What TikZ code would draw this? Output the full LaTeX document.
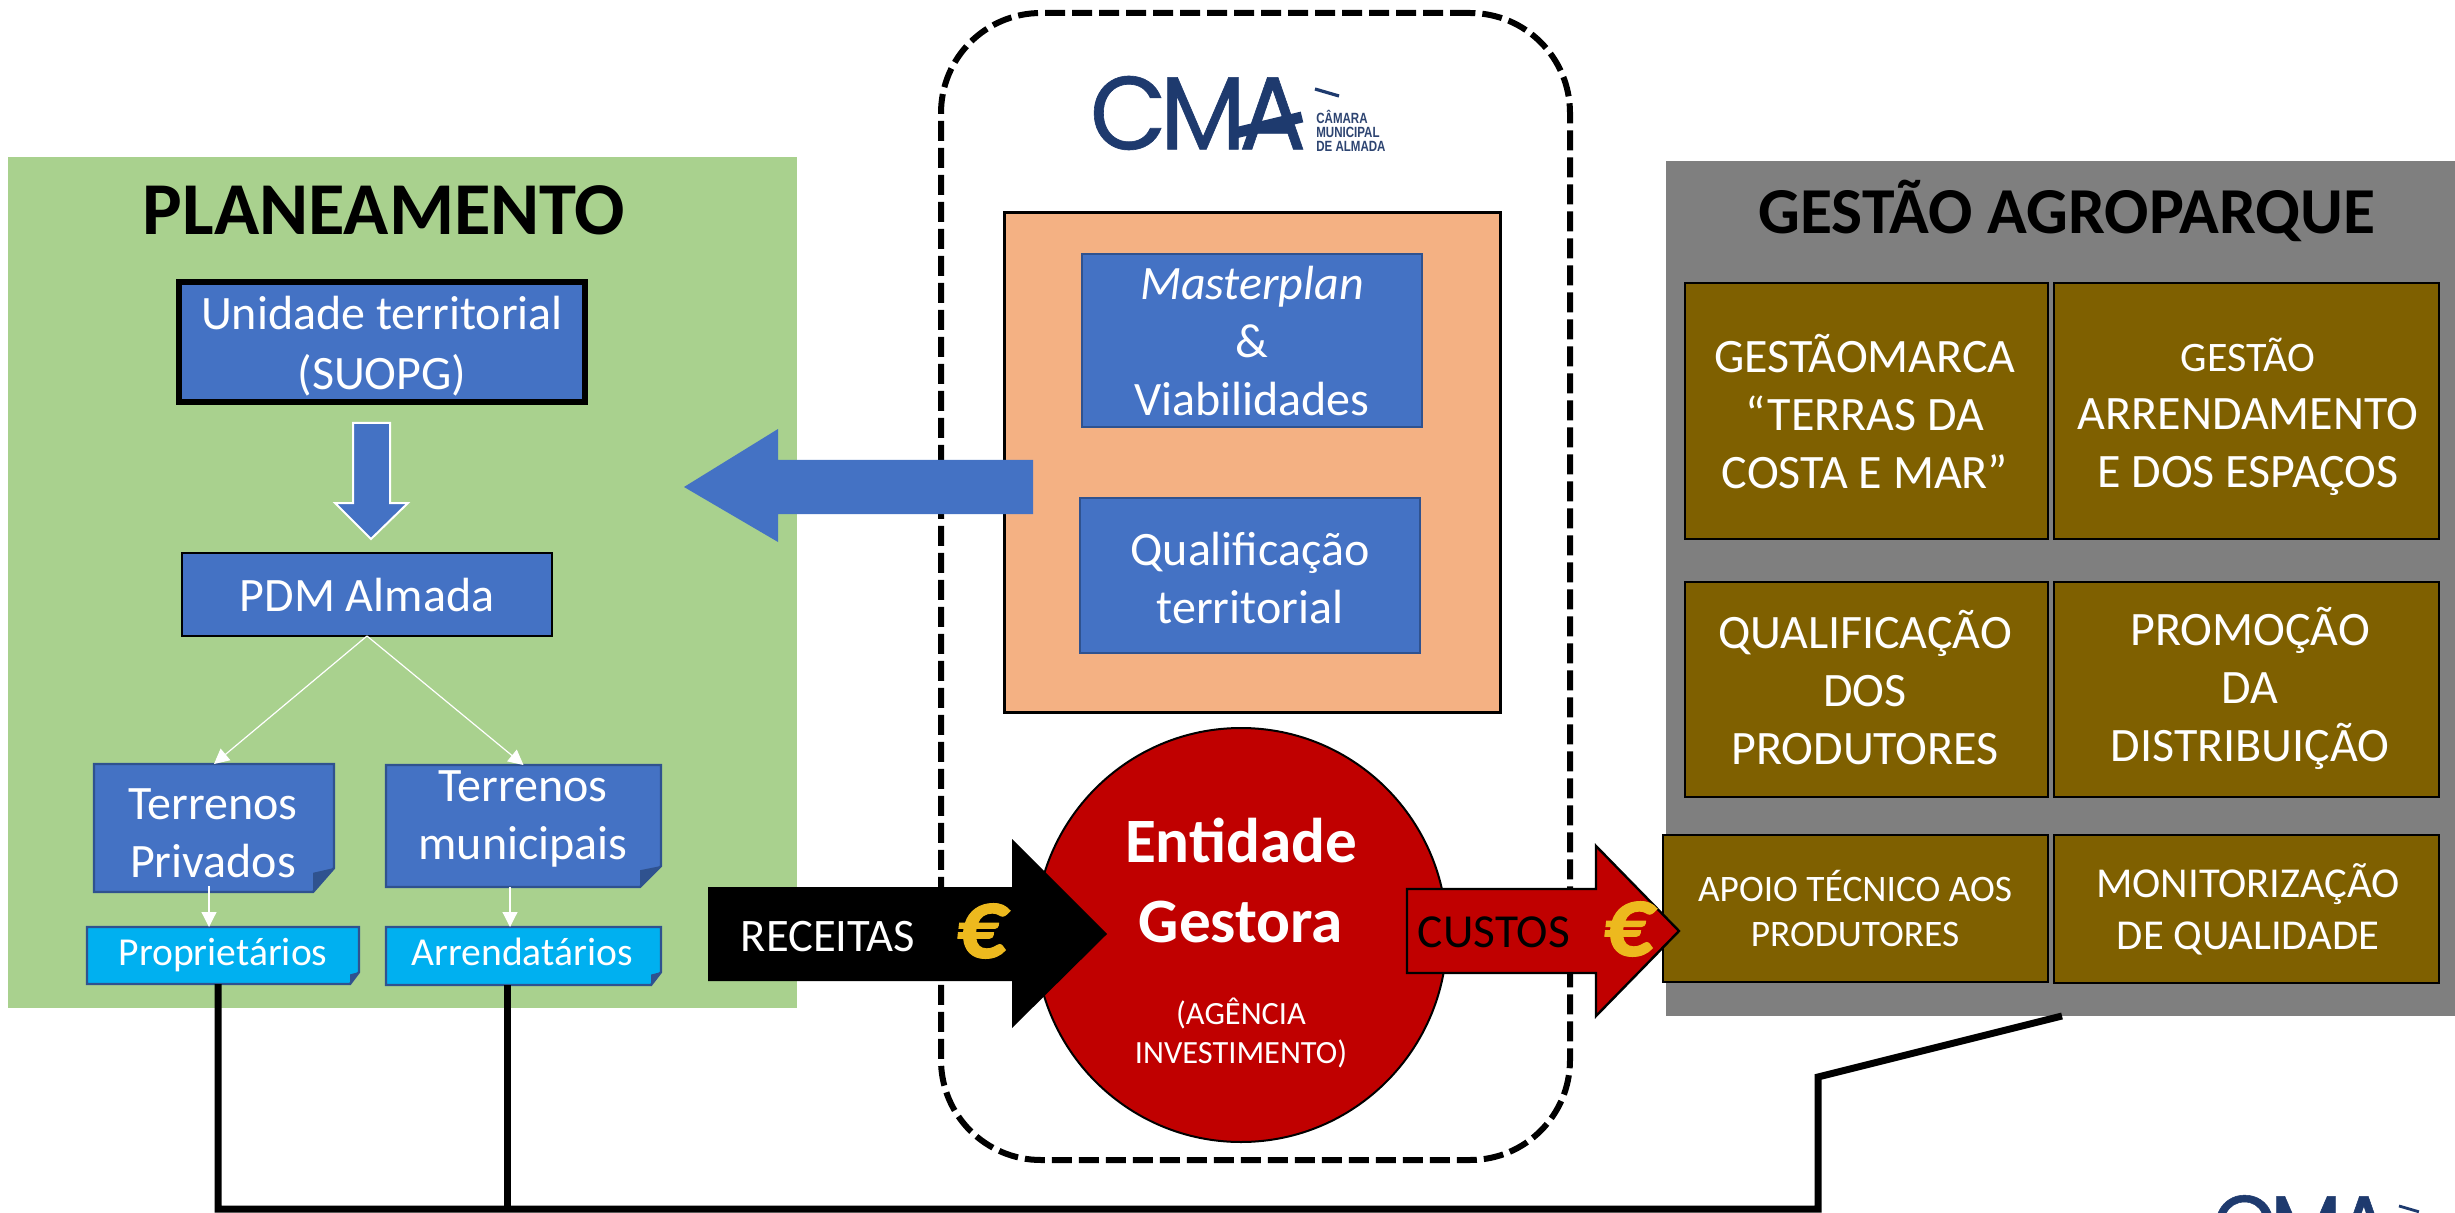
\documentclass[tikz,border=0pt]{standalone}
\usepackage{fontspec}
\setmainfont{Carlito}
\newfontfamily\logofont[LetterSpace=-7,FakeBold=0.6]{Poppins}
\newfontfamily\logosmall{Liberation Sans}
\newfontfamily\eurofont[FakeBold=1.2]{Carlito Bold Italic}
\usetikzlibrary{arrows.meta,calc}
\definecolor{gfill}{HTML}{A9D18E}
\definecolor{bluef}{HTML}{4472C4}
\definecolor{blued}{HTML}{2F528F}
\definecolor{cyanf}{HTML}{00B0F0}
\definecolor{orangef}{HTML}{F4B183}
\definecolor{redf}{HTML}{C00000}
\definecolor{brownf}{HTML}{7F6000}
\definecolor{grayf}{HTML}{7F7F7F}
\definecolor{logoblue}{HTML}{1E3A6E}
\definecolor{eurog}{HTML}{EDB91E}
\newcommand{\rectn}[6]{%
  \pgfmathsetmacro{\cxx}{(#3+#5)/2}\pgfmathsetmacro{\cyy}{(#4+#6)/2}%
  \pgfmathsetmacro{\ww}{(#5-#3)*0.5}\pgfmathsetmacro{\hh}{(#6-#4)*0.5}%
  \node[#1,minimum width=\ww pt,minimum height=\hh pt] (#2) at (\cxx,\cyy) {};}
\newcommand{\foldn}[4]{%
  \path[fill=#1,draw=blued,line width=1.2pt] (#2.north west) -- (#2.north east) -- ($(#2.south east)+(0,#3)$) -- ($(#2.south east)+(#4,0)$) -- (#2.south west) -- cycle;
  \path[fill=blued] ($(#2.south east)+(0,#3)$) -- ($(#2.south east)+(#4,0)$) -- ($(#2.south east)+(#4*1.0,#3*0.8)$) -- cycle;}
\tikzset{
  x=0.5pt,y=-0.5pt,
  base/.style={rectangle,inner sep=0pt,outer sep=0pt},
  ghost/.style={base},
  bluebox/.style={base,fill=bluef,draw=blued,line width=1.2pt},
  brownbox/.style={base,fill=brownf,draw=black,line width=1.2pt},
  txt/.style={inner sep=0pt,outer sep=0pt,align=center,text=white},
  tbody/.style={txt,font=\fontsize{24}{29}\selectfont},
  tsmall/.style={txt,font=\fontsize{19.8}{24}\selectfont},
  tbrown/.style={txt,font=\fontsize{24}{29}\selectfont},
  ttitle/.style={inner sep=0pt,align=center,text=black,font=\fontsize{37.3}{42}\selectfont\bfseries},
  teuro/.style={inner sep=0pt,text=eurog,font=\fontsize{50}{50}\selectfont\eurofont},
  thin arrow/.style={draw=white,line width=0.6pt,-{Triangle[length=7.5pt,width=7.5pt,fill=white]}},
  black link/.style={draw=black,line width=3.5pt,line cap=butt,line join=miter},
  logotxt/.style={inner sep=0pt,text=logoblue,font=\fontsize{52}{52}\selectfont\logofont,transform shape},
  logosm/.style={inner sep=0pt,align=left,text=logoblue!85!gray,transform shape,font=\fontsize{7.4}{7.1}\selectfont\logosmall\bfseries},
}
\begin{document}
\begin{tikzpicture}
\useasboundingbox[fill=white] (0,0) rectangle (2455,1213);
% panels
\rectn{base,fill=gfill}{planeamento}{8}{157}{797}{1008}
\rectn{base,fill=grayf}{gestaopanel}{1666}{161}{2455}{1016}
% dashed frame
\rectn{base,draw=black,line width=3pt,dash pattern=on 10pt off 3.5pt,rounded corners=50pt}{frame}{941}{13}{1570}{1160}
% logo
\node[logotxt,anchor=center,xscale=0.96] (cmalogo) at (1198,113) {CMA};
\coordinate (barA) at (1235,133); \coordinate (barB) at (1302,117);
\draw[logoblue,line width=5.5pt] (barA) -- (barB);
\coordinate (accA) at (1315,89); \coordinate (accB) at (1339,96);
\draw[logoblue,line width=1.6pt] (accA) -- (accB);
\node[logosm,anchor=west,xscale=0.78] (cmasmall) at (1316,131) {CÂMARA\\MUNICIPAL\\DE ALMADA};
% orange panel
\rectn{base,fill=orangef,draw=black,line width=1.5pt}{orangepanel}{1004}{213}{1500}{712}
\rectn{bluebox}{master}{1082}{254}{1422}{427}
\node[tbody] (mastertxt) at (1252,341) {\textit{Masterplan}\\\&\\Viabilidades};
\rectn{bluebox}{qualif}{1080}{498}{1420}{653}
\node[tbody] (qualiftxt) at (1250,578) {Qualificação\\territorial};
% left block arrow
\path[fill=bluef] (1033,460) -- (778,460) -- (778,429) -- (684,487) -- (778,542) -- (778,514) -- (1033,514) -- cycle;
% planeamento
\node[ttitle] (plantitle) at (384,210) {PLANEAMENTO};
\rectn{base,fill=bluef,draw=black,line width=3.3pt}{unidade}{179}{282}{585}{402}
\node[tbody,font=\fontsize{24}{30}\selectfont] (unidadetxt) at (382,346) {Unidade territorial\\(SUOPG)};
\path[fill=bluef,draw=white,line width=1pt] (353,423) -- (390,423) -- (390,503) -- (408,503) -- (371,539) -- (335,503) -- (353,503) -- cycle;
\rectn{base,fill=bluef,draw=black,line width=1.2pt}{pdm}{182}{553}{552}{636}
\node[tbody] (pdmtxt) at (367,595) {PDM Almada};
\rectn{ghost}{tprivados}{94}{764}{334}{892}
\rectn{ghost}{tmunicip}{386}{765}{661}{887}
\rectn{ghost}{propr}{87}{927}{359}{984}
\rectn{ghost}{arrend}{386}{927}{661}{985}
\foldn{bluef}{tprivados}{-24}{-21}
\foldn{bluef}{tmunicip}{-21}{-21}
\foldn{cyanf}{propr}{-12}{-9}
\foldn{cyanf}{arrend}{-13}{-10}
\node[tbody] (tptxt) at (213,833) {Terrenos\\Privados};
\node[tbody] (tmtxt) at (523,819) {Terrenos\\municipais};
\node[tsmall] (prtxt) at (223,955) {Proprietários};
\node[tsmall] (artxt) at (522,952) {Arrendatários};
\draw[thin arrow] (pdm.south) -- (tprivados.north);
\draw[thin arrow] (pdm.south) -- (tmunicip.north);
\coordinate (a1) at (209,886); \coordinate (a2) at (209,927);
\coordinate (b1) at (510,887); \coordinate (b2) at (510,927);
\draw[thin arrow] (a1) -- (a2);
\draw[thin arrow] (b1) -- (b2);
% gestao
\node[ttitle,font=\fontsize{32.8}{38}\selectfont\bfseries] (gesttitle) at (2067,211) {GESTÃO AGROPARQUE};
\rectn{brownbox}{b1x}{1685}{283}{2048}{539}
\rectn{brownbox}{b2x}{2054}{283}{2439}{539}
\rectn{brownbox}{b3x}{1685}{582}{2048}{797}
\rectn{brownbox}{b4x}{2054}{582}{2439}{797}
\rectn{brownbox}{b5x}{1663}{835}{2048}{982}
\rectn{brownbox}{b6x}{2054}{835}{2439}{983}
\node[tbrown] (b1t) at (1865,412) {GESTÃOMARCA\\“TERRAS DA\\COSTA E MAR”};
\node[tbrown] (b2t) at (2248,417) {{\fontsize{21}{29}\selectfont GESTÃO}\\ARRENDAMENTO\\E DOS ESPAÇOS};
\node[tbrown] (b3t) at (1865,688) {QUALIFICAÇÃO\\DOS\\PRODUTORES};
\node[tbrown] (b4t) at (2250,688) {PROMOÇÃO\\DA\\DISTRIBUIÇÃO};
\node[txt,font=\fontsize{18.7}{22.5}\selectfont] (b5t) at (1855,909) {APOIO TÉCNICO AOS\\PRODUTORES};
\node[txt,font=\fontsize{21.3}{26}\selectfont] (b6t) at (2248,909) {MONITORIZAÇÃO\\DE QUALIDADE};
% circle and arrows
\path[fill=redf,draw=black,line width=1pt] (1241,935) ellipse [x radius=206,y radius=207];
\path[fill=black] (708,887) -- (1012,887) -- (1012,839) -- (1107,934) -- (1012,1028) -- (1012,981) -- (708,981) -- cycle;
\path[fill=redf,draw=black,line width=1.2pt] (1407,889) -- (1596,889) -- (1596,846) -- (1679,931) -- (1596,1016) -- (1596,973) -- (1407,973) -- cycle;
\node[txt,font=\fontsize{31.6}{40}\selectfont\bfseries] (entidade) at (1241,881) {Entidade\\Gestora};
\node[txt,font=\fontsize{16.2}{19.5}\selectfont] (agencia) at (1241,1033) {(AGÊNCIA\\INVESTIMENTO)};
\node[txt,font=\fontsize{23.3}{26}\selectfont] (receitas) at (828,937) {RECEITAS};
\node[teuro] (euro1) at (981,931) {€};
\node[txt,text=black,font=\fontsize{23.7}{26}\selectfont] (custos) at (1494,932) {CUSTOS};
\node[teuro] (euro2) at (1628,929) {€};
% links
\coordinate (p1) at (218,984); \coordinate (p2) at (218,1209);
\coordinate (q1) at (507,985); \coordinate (q2) at (507,1209);
\coordinate (r1) at (1818,1209); \coordinate (r2) at (1818,1077); \coordinate (r3) at (2062,1016);
\draw[black link] (p1) -- (p2) -- (q2) -- (r1) -- (r2) -- (r3);
\draw[black link] (q1) -- (q2);
% lower logo
\begin{scope}[shift={(2218,1196)},scale=0.83,shift={(-1097,-77)}]
\node[logotxt,anchor=center,xscale=0.96] (cmalogob) at (1198,113) {CMA};
\coordinate (accC) at (1315,89); \coordinate (accD) at (1339,96);
\draw[logoblue,line width=1.4pt] (accC) -- (accD);
\end{scope}
\end{tikzpicture}
\end{document}
